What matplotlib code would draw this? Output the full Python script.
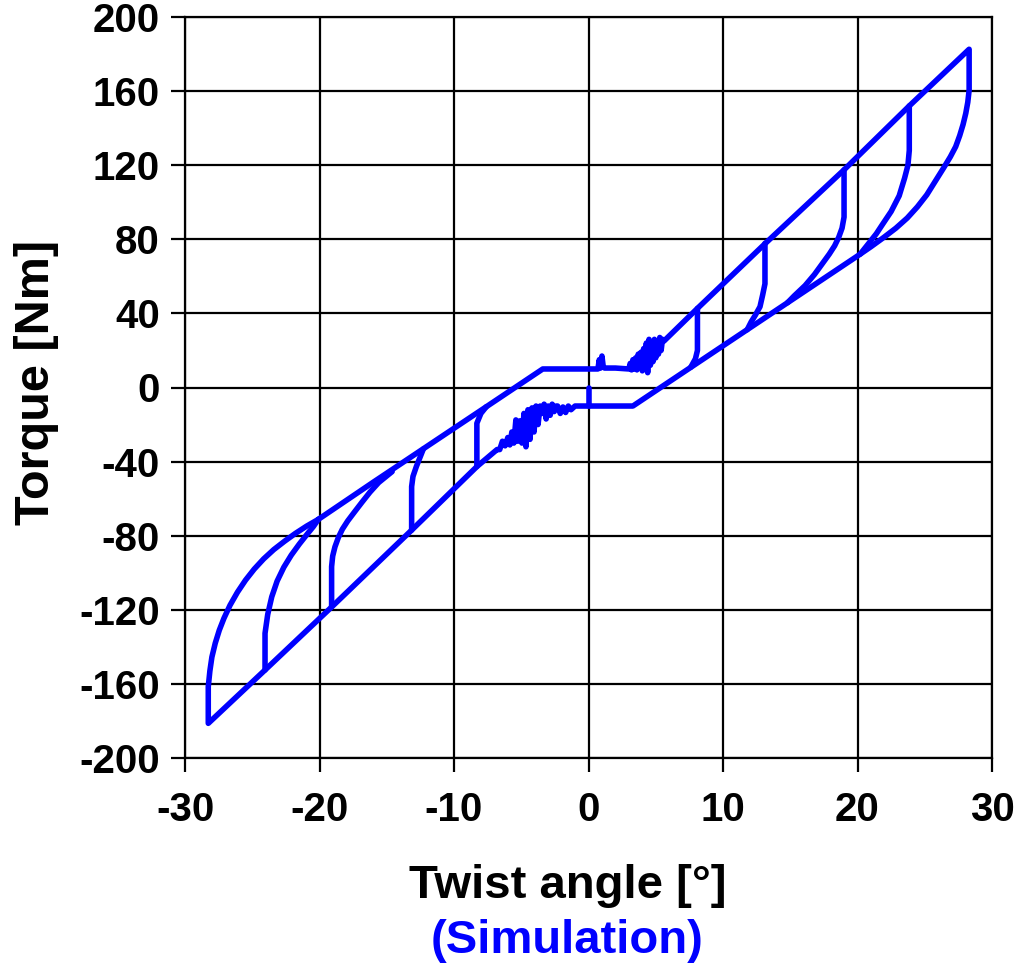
import matplotlib
matplotlib.use("Agg")
import matplotlib.pyplot as plt

plt.rcParams['font.family'] = ['Liberation Sans', 'DejaVu Sans']
plt.rcParams['font.weight'] = 'bold'

# ---- data (twist angle [deg], torque [Nm]) ----
# upper-left shallow unloading line (B')
bl_x = [-20.09, -16.0, -12.3, -7.6, -3.4]
bl_y = [-71.2, -51.1, -33.2, -10.4, 10.0]
# upper plateau (+10 Nm)
up_x = [-3.4, 0.7, 0.8, 0.9, 1.0, 1.1, 1.2, 2.0, 2.9]
up_y = [10.0, 10.0, 15.0, 10.5, 17.0, 11.0, 10.5, 10.5, 10.0]
# noisy transition from upper plateau to loading line
un_x = [3.0, 3.1, 3.2, 3.3, 3.4, 3.5, 3.6, 3.7, 3.8, 3.9, 4.0, 4.1, 4.2, 4.3,
        4.4, 4.5, 4.6, 4.7, 4.8, 4.9, 5.0, 5.1, 5.2, 5.3, 5.4, 5.5, 5.6]
un_y = [10.0, 13.0, 9.5, 15.0, 10.0, 16.0, 9.5, 18.0, 10.5, 19.0, 9.0, 21.0,
        11.0, 24.0, 8.0, 26.0, 12.0, 24.0, 14.0, 26.0, 16.0, 25.0, 18.0, 27.0,
        20.0, 26.0, 25.0]
# right steep loading line (A)
ar_x = [5.6, 8.1, 13.15, 19.0, 23.85, 28.3]
ar_y = [25.0, 42.7, 77.8, 117.5, 152.0, 182.6]
# outer right unloading curve
or_x = [28.3, 28.3, 28.2, 28.05, 27.85, 27.6, 27.3, 26.9, 26.4, 25.8, 25.15,
        24.45, 23.7, 22.85, 21.95, 21.0, 20.0]
or_y = [182.6, 160.5, 154.0, 148.0, 142.0, 136.0, 130.0, 124.5, 118.5, 111.5,
        104.0, 97.5, 91.5, 86.0, 81.0, 76.0, 71.0]
# right shallow unloading line (B)
br_x = [20.0, 15.3, 11.8, 7.6, 3.3]
br_y = [71.0, 48.2, 31.2, 10.9, -10.0]
# lower plateau (-10 Nm)
lp_x = [3.3, 0.0, -1.0, -1.3, -1.5, -1.7, -1.9, -2.1, -2.3, -2.4]
lp_y = [-10.0, -10.0, -10.0, -12.0, -10.0, -13.5, -10.5, -14.0, -10.0, -10.0]
# noisy transition from lower plateau to left loading line
ln_x = [-2.4, -2.55, -2.7, -2.85, -3.0, -3.15, -3.3, -3.45, -3.6, -3.75, -3.9,
        -4.05, -4.2, -4.35, -4.5, -4.65, -4.8, -4.95, -5.1, -5.25, -5.4, -5.55,
        -5.7, -5.85, -6.0, -6.2, -6.4, -6.6, -6.8]
ln_y = [-10.0, -13.0, -9.0, -15.0, -10.0, -17.0, -9.0, -14.0, -10.0, -20.0,
        -10.0, -24.0, -11.0, -28.0, -12.0, -32.0, -14.0, -30.0, -18.0, -29.0,
        -17.5, -30.0, -24.0, -31.0, -27.0, -31.5, -29.0, -33.5, -33.5]
# left steep loading line (A')
al_x = [-6.8, -8.3, -13.15, -19.1, -24.05, -28.27]
al_y = [-33.5, -42.7, -77.0, -118.5, -152.5, -181.3]
# outer left unloading curve
ol_x = [-28.27, -28.27, -28.15, -28.0, -27.75, -27.45, -27.1, -26.65, -26.1,
        -25.5, -24.85, -24.15, -23.4, -22.6, -21.8, -20.95, -20.09]
ol_y = [-181.3, -161.5, -153.0, -145.5, -138.0, -131.0, -124.5, -117.5,
        -110.5, -104.0, -98.0, -92.5, -87.5, -83.0, -78.8, -74.8, -71.2]

# inner reversal branches, right side
d1_x = [8.1, 8.1, 7.95, 7.6]
d1_y = [42.7, 20.0, 15.5, 10.9]
d2_x = [13.12, 13.12, 12.95, 12.75, 12.4, 12.1, 11.8]
d2_y = [77.8, 56.0, 50.0, 43.6, 39.0, 35.5, 31.2]
d3_x = [19.0, 19.0, 18.85, 18.6, 18.3, 17.9, 17.4, 16.8, 16.1, 15.3, 14.8]
d3_y = [117.5, 92.0, 86.0, 81.0, 76.5, 72.0, 67.0, 61.0, 55.0, 49.5, 45.8]
d4_x = [23.85, 23.85, 23.75, 23.5, 23.1, 22.5, 21.9, 21.4, 20.8, 20.2]
d4_y = [152.0, 128.0, 120.0, 113.0, 103.5, 95.0, 88.5, 83.0, 77.5, 72.0]
# inner reversal branches, left side
e1_x = [-8.3, -8.3, -8.0, -7.6]
e1_y = [-42.7, -19.3, -14.0, -10.4]
e2_x = [-13.15, -13.15, -13.05, -12.8, -12.28]
e2_y = [-77.0, -53.5, -48.0, -42.7, -33.2]
e3_x = [-19.1, -19.1, -19.02, -18.85, -18.6, -18.3, -17.9, -17.4, -16.85,
        -16.25, -15.6, -14.6]
e3_y = [-118.3, -96.7, -91.0, -86.0, -81.0, -76.5, -72.0, -67.2, -62.0,
        -56.5, -51.3, -45.4]
e4_x = [-24.05, -24.05, -23.85, -23.55, -23.15, -22.65, -22.1, -21.5, -20.9,
        -20.45, -20.09]
e4_y = [-152.5, -132.7, -122.5, -113.0, -104.5, -97.0, -90.5, -84.5, -79.0,
        -75.0, -71.2]
# start segment
st_x = [0.0, 0.0]
st_y = [0.0, -10.0]

x_ticks = [-30, -20, -10, 0, 10, 20, 30]
y_ticks = [-200, -160, -120, -80, -40, 0, 40, 80, 120, 160, 200]

BLUE = '#0000FF'

fig = plt.figure(figsize=(10.16, 9.67), dpi=100)
ax = fig.add_axes([185/1016, 1 - 758/967, (992-185)/1016, (758-17)/967])

loop_x = bl_x + up_x + un_x + ar_x + or_x + br_x + lp_x + ln_x + al_x + ol_x
loop_y = bl_y + up_y + un_y + ar_y + or_y + br_y + lp_y + ln_y + al_y + ol_y
lw = 4.0
ax.plot(loop_x, loop_y, color=BLUE, lw=lw, solid_joinstyle='round',
        solid_capstyle='round', zorder=3)
for xs, ys in [(d1_x, d1_y), (d2_x, d2_y), (d3_x, d3_y), (d4_x, d4_y),
               (e1_x, e1_y), (e2_x, e2_y), (e3_x, e3_y), (e4_x, e4_y),
               (st_x, st_y)]:
    ax.plot(xs, ys, color=BLUE, lw=lw, solid_joinstyle='round',
            solid_capstyle='round', zorder=3)

ax.set_xlim(-30, 30)
ax.set_ylim(-200, 200)
ax.set_xticks(x_ticks)
ax.set_yticks(y_ticks)
ax.set_xticklabels([str(v) for v in x_ticks])
ax.set_yticklabels([str(v) for v in y_ticks])
ax.grid(True, color='black', lw=1.6, zorder=1)
for s in ax.spines.values():
    s.set_color('black')
    s.set_linewidth(1.6)
ax.tick_params(axis='both', direction='out', length=10, width=1.6,
               labelsize=29, colors='black')
ax.tick_params(axis='x', pad=14)
ax.tick_params(axis='y', pad=8)
for lab in ax.get_xticklabels() + ax.get_yticklabels():
    lab.set_fontweight('bold')

fig.text(37/1016, 1 - 382/967, 'Torque [Nm]', rotation=90, ha='center',
         va='center', fontsize=35, fontweight='bold', color='black')
fig.text(568/1016, 1 - 898/967, 'Twist angle [°]', ha='center',
         va='baseline', fontsize=34, fontweight='bold', color='black')
fig.text(567/1016, 1 - 953/967, '(Simulation)', ha='center',
         va='baseline', fontsize=34, fontweight='bold', color=BLUE)

fig.savefig('out.png', dpi=100)
